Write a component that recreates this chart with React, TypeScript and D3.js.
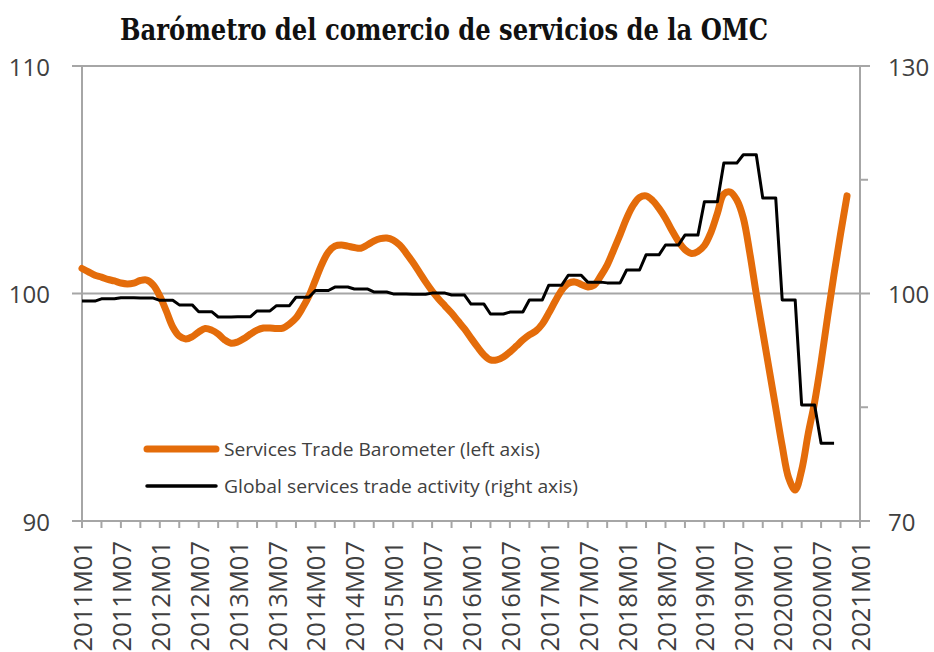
import React from "react";
import * as d3 from "d3";

// ---- Data ----
const years = [2011, 2012, 2013, 2014, 2015, 2016, 2017, 2018, 2019, 2020, 2021];
const monthNames = ["01", "02", "03", "04", "05", "06", "07", "08", "09", "10", "11", "12"];
const categories: string[] = [];
years.forEach((y) => monthNames.forEach((m) => { if (y < 2021 || m === "01") categories.push(`${y}M${m}`); }));

// Services Trade Barometer (left axis), monthly from 2011M01
const barometer = [
  101.1, 100.95, 100.8, 100.72, 100.62, 100.55, 100.46, 100.42, 100.46, 100.57,
  100.59, 100.37, 99.89, 99.23, 98.53, 98.13, 98.0, 98.1, 98.31, 98.46,
  98.39, 98.22, 97.96, 97.81, 97.87, 98.02, 98.22, 98.39, 98.48, 98.48,
  98.46, 98.48, 98.66, 98.92, 99.36, 99.89, 100.59, 101.29, 101.82, 102.08,
  102.13, 102.08, 102.02, 101.99, 102.13, 102.3, 102.41, 102.44, 102.35, 102.13,
  101.78, 101.38, 100.95, 100.51, 100.11, 99.76, 99.45, 99.14, 98.79, 98.44,
  98.04, 97.65, 97.3, 97.08, 97.08, 97.21, 97.43, 97.69, 97.96, 98.18,
  98.35, 98.66, 99.14, 99.67, 100.15, 100.44, 100.51, 100.4, 100.29, 100.37,
  100.77, 101.25, 101.91, 102.59, 103.3, 103.87, 104.22, 104.29, 104.09, 103.74,
  103.3, 102.77, 102.29, 101.93, 101.76, 101.85, 102.11, 102.68, 103.52, 104.37,
  104.46, 104.11, 103.32, 101.78, 99.98, 98.31, 96.64, 94.97, 93.3, 91.89,
  91.36, 92.24, 93.82, 95.23, 96.99, 98.97, 100.86, 102.62, 104.29,
];

// Global services trade activity (right axis), monthly from 2011M01 (quarterly values)
const activity = [
  99.0, 99.0, 99.0, 99.3, 99.3, 99.3, 99.45, 99.45, 99.45, 99.4, 99.4, 99.4,
  99.1, 99.1, 99.1, 98.5, 98.5, 98.5, 97.6, 97.6, 97.6, 96.9, 96.9, 96.9,
  96.95, 96.95, 96.95, 97.7, 97.7, 97.7, 98.4, 98.4, 98.4, 99.5, 99.5, 99.5,
  100.4, 100.4, 100.4, 100.85, 100.85, 100.85, 100.6, 100.6, 100.6, 100.2, 100.2, 100.2,
  99.95, 99.95, 99.95, 99.9, 99.9, 99.9, 100.05, 100.05, 100.05, 99.8, 99.8, 99.8,
  98.6, 98.6, 98.6, 97.3, 97.3, 97.3, 97.55, 97.55, 97.55, 99.15, 99.15, 99.15,
  101.1, 101.1, 101.1, 102.4, 102.4, 102.4, 101.5, 101.5, 101.5, 101.4, 101.4, 101.4,
  103.1, 103.1, 103.1, 105.1, 105.1, 105.1, 106.4, 106.4, 106.4, 107.7, 107.7, 107.7,
  112.1, 112.1, 112.1, 117.2, 117.2, 117.2, 118.3, 118.3, 118.3, 112.6, 112.6, 112.6,
  99.15, 99.15, 99.15, 85.3, 85.3, 85.3, 80.25, 80.25, 80.25,
];

const leftTicks = [90, 100, 110];
const rightTicks = [70, 100, 130];
const rightMinorTicks = [85, 115];
const title = "Barómetro del comercio de servicios de la OMC";
const legendLabels = ["Services Trade Barometer (left axis)", "Global services trade activity (right axis)"];

// ---- Layout ----
const W = 934, H = 652;
const L = 82, R = 860, T = 66, B = 521;
const ORANGE = "#E46C0A";
const GRID = "#a6a6a6";
const TEXT = "#404040";
const FONT = "'Open Sans', 'DejaVu Sans', sans-serif";

export default function App() {
  const x = d3.scalePoint<string>().domain(categories).range([L, R]);
  const yL = d3.scaleLinear().domain([90, 110]).range([B, T]);
  const yR = d3.scaleLinear().domain([70, 130]).range([B, T]);

  const orangePath = d3
    .line<number>()
    .x((_, i) => x(categories[i])!)
    .y((d) => yL(d))
    .curve(d3.curveCatmullRom.alpha(0.5))(barometer)!;
  const blackPath = d3
    .line<number>()
    .x((_, i) => x(categories[i])!)
    .y((d) => yR(d))(activity)!;

  return (
    <svg width={W} height={H} style={{ position: "absolute", left: 0, top: 0, background: "#fff" }}>
      <text x={444} y={40} textAnchor="middle" fontFamily="'DejaVu Serif', serif" fontWeight="bold" fontSize={29}
        fontStretch="condensed" textLength={648} lengthAdjust="spacingAndGlyphs" fill="#111">{title}</text>

      {/* gridlines */}
      {leftTicks.map((t) => (
        <line key={t} x1={L - 10} x2={R + 10} y1={yL(t)} y2={yL(t)} stroke={GRID} strokeWidth={2} />
      ))}
      {/* axes */}
      <line x1={L} x2={L} y1={T} y2={B + 7} stroke={GRID} strokeWidth={2} />
      <line x1={R} x2={R} y1={T} y2={B + 7} stroke={GRID} strokeWidth={2} />
      {rightMinorTicks.map((t) => (
        <line key={t} x1={R} x2={R + 8} y1={yR(t)} y2={yR(t)} stroke={GRID} strokeWidth={2} />
      ))}
      {categories.map((c, i) => i % 3 === 0 ? (
        <line key={c} x1={x(c)} x2={x(c)} y1={B} y2={B + 7} stroke={GRID} strokeWidth={2} />
      ) : null)}

      {/* lines */}
      <path d={orangePath} fill="none" stroke={ORANGE} strokeWidth={7} strokeLinecap="round" strokeLinejoin="round" />
      <path d={blackPath} fill="none" stroke="#000" strokeWidth={3} strokeLinejoin="round" />

      {/* left tick labels */}
      {leftTicks.map((t) => (
        <text key={t} x={50} y={yL(t)} textAnchor="end" dominantBaseline="central" fontFamily={FONT} fontSize={24} fill={TEXT}>{t}</text>
      ))}
      {rightTicks.map((t) => (
        <text key={t} x={888} y={yR(t)} textAnchor="start" dominantBaseline="central" fontFamily={FONT} fontSize={24} fill={TEXT}>{t}</text>
      ))}
      {/* x labels */}
      {categories.map((c, i) => i % 6 === 0 ? (
        <text key={c} transform={`translate(${x(c)},541) rotate(-90)`} textAnchor="end" dominantBaseline="central"
          fontFamily={FONT} fontSize={25.5} fill={TEXT}>{c}</text>
      ) : null)}

      {/* legend */}
      <line x1={147} x2={216} y1={449} y2={449} stroke={ORANGE} strokeWidth={7} strokeLinecap="round" />
      <text x={224} y={449} dominantBaseline="central" fontFamily={FONT} fontSize={17.5} fill={TEXT}
        textLength={316} lengthAdjust="spacingAndGlyphs">{legendLabels[0]}</text>
      <line x1={147} x2={216} y1={486} y2={486} stroke="#000" strokeWidth={3.5} strokeLinecap="round" />
      <text x={224} y={486} dominantBaseline="central" fontFamily={FONT} fontSize={17.5} fill={TEXT}
        textLength={354} lengthAdjust="spacingAndGlyphs">{legendLabels[1]}</text>
    </svg>
  );
}
